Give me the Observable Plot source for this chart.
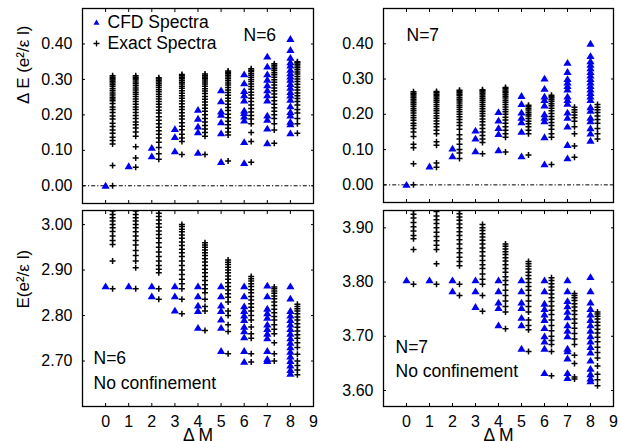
<!DOCTYPE html>
<html><head><meta charset="utf-8">
<script src="https://cdn.jsdelivr.net/npm/d3@7"></script>
<script src="https://cdn.jsdelivr.net/npm/@observablehq/plot@0.6"></script>
<style>
body{margin:0;background:#fff;}
#wrap{position:relative;width:621px;height:441px;overflow:hidden;background:#fff;}
#wrap > div{position:absolute;}
</style></head><body><div id="wrap"></div>
<script>
// ΔM categories and tick labels
const deltaM = [0, 1, 2, 3, 4, 5, 6, 7, 8];
const mTicks = [0, 1, 2, 3, 4, 5, 6, 7, 8, 9];
const topTicks = [0, 0.1, 0.2, 0.3, 0.4];
const n6FreeTicks = [2.7, 2.8, 2.9, 3.0];
const n7FreeTicks = [3.6, 3.7, 3.8, 3.9];

// N=6, with confinement: ΔE values per ΔM (index = ΔM)
const n6CFD = [
  [0.0],
  [0.055],
  [0.083, 0.107],
  [0.097, 0.137, 0.160],
  [0.093, 0.151, 0.167, 0.189, 0.214],
  [0.067, 0.148, 0.179, 0.200, 0.209, 0.238, 0.269],
  [0.064, 0.123, 0.184, 0.195, 0.205, 0.212, 0.240, 0.255, 0.267, 0.289, 0.314],
  [0.120, 0.161, 0.186, 0.198, 0.240, 0.255, 0.269, 0.283, 0.299, 0.314, 0.336, 0.364],
  [0.148, 0.173, 0.180, 0.198, 0.208, 0.224, 0.242, 0.254, 0.264, 0.276, 0.287, 0.299, 0.308, 0.317, 0.327, 0.339, 0.348, 0.361, 0.383, 0.414]
];
const n6Exact = [
  [0.0, 0.057, 0.118, 0.128, 0.137, 0.148, 0.157, 0.167, 0.176, 0.188, 0.197, 0.207, 0.215, 0.222, 0.232, 0.240, 0.245, 0.250, 0.256, 0.262, 0.268, 0.274, 0.280, 0.285, 0.290, 0.294, 0.298, 0.302, 0.306, 0.310],
  [0.052, 0.078, 0.110, 0.140, 0.152, 0.163, 0.172, 0.180, 0.190, 0.198, 0.207, 0.215, 0.222, 0.230, 0.238, 0.245, 0.252, 0.258, 0.264, 0.270, 0.276, 0.282, 0.288, 0.293, 0.298, 0.302, 0.306, 0.310],
  [0.075, 0.090, 0.108, 0.123, 0.135, 0.145, 0.155, 0.165, 0.175, 0.185, 0.195, 0.205, 0.213, 0.222, 0.230, 0.238, 0.245, 0.252, 0.258, 0.265, 0.271, 0.277, 0.283, 0.288, 0.293, 0.297, 0.301, 0.305],
  [0.088, 0.125, 0.135, 0.145, 0.158, 0.168, 0.178, 0.188, 0.197, 0.206, 0.215, 0.223, 0.231, 0.239, 0.247, 0.254, 0.261, 0.268, 0.275, 0.281, 0.287, 0.292, 0.297, 0.302, 0.306, 0.310, 0.314],
  [0.088, 0.140, 0.150, 0.160, 0.170, 0.180, 0.190, 0.200, 0.210, 0.219, 0.228, 0.236, 0.244, 0.252, 0.260, 0.267, 0.274, 0.281, 0.287, 0.293, 0.298, 0.303, 0.307, 0.311, 0.315],
  [0.070, 0.143, 0.152, 0.162, 0.172, 0.182, 0.192, 0.202, 0.212, 0.221, 0.230, 0.239, 0.247, 0.255, 0.263, 0.270, 0.277, 0.284, 0.290, 0.296, 0.302, 0.307, 0.312, 0.316, 0.320, 0.324],
  [0.066, 0.125, 0.150, 0.175, 0.188, 0.198, 0.208, 0.218, 0.228, 0.238, 0.247, 0.256, 0.264, 0.272, 0.280, 0.287, 0.294, 0.300, 0.306, 0.312, 0.317, 0.322, 0.326, 0.330],
  [0.120, 0.157, 0.175, 0.190, 0.200, 0.210, 0.220, 0.230, 0.240, 0.250, 0.259, 0.268, 0.276, 0.284, 0.292, 0.299, 0.306, 0.313, 0.319, 0.325, 0.330, 0.335, 0.340, 0.344],
  [0.148, 0.175, 0.190, 0.205, 0.215, 0.228, 0.238, 0.246, 0.254, 0.262, 0.270, 0.278, 0.286, 0.294, 0.301, 0.308, 0.315, 0.321, 0.327, 0.333, 0.338, 0.343, 0.347, 0.350]
];

// N=7, with confinement
const n7CFD = [
  [0.0],
  [0.052],
  [0.081, 0.103],
  [0.095, 0.131, 0.154],
  [0.098, 0.144, 0.161, 0.182, 0.206],
  [0.081, 0.150, 0.177, 0.190, 0.205, 0.229, 0.252],
  [0.058, 0.135, 0.180, 0.190, 0.200, 0.225, 0.240, 0.250, 0.272, 0.301],
  [0.075, 0.113, 0.165, 0.190, 0.205, 0.230, 0.240, 0.250, 0.270, 0.280, 0.290, 0.300, 0.320, 0.346],
  [0.125, 0.145, 0.160, 0.180, 0.190, 0.210, 0.220, 0.240, 0.250, 0.260, 0.270, 0.280, 0.290, 0.300, 0.310, 0.320, 0.330, 0.340, 0.350, 0.365, 0.400]
];
const n7Exact = [
  [0.0, 0.060, 0.105, 0.115, 0.137, 0.150, 0.160, 0.168, 0.175, 0.183, 0.190, 0.197, 0.204, 0.210, 0.216, 0.222, 0.228, 0.233, 0.238, 0.243, 0.248, 0.252, 0.256, 0.260, 0.264],
  [0.050, 0.062, 0.112, 0.122, 0.145, 0.155, 0.165, 0.173, 0.181, 0.189, 0.196, 0.203, 0.210, 0.216, 0.222, 0.228, 0.234, 0.239, 0.244, 0.249, 0.253, 0.257, 0.261, 0.265],
  [0.075, 0.090, 0.100, 0.115, 0.130, 0.142, 0.158, 0.168, 0.177, 0.185, 0.193, 0.200, 0.207, 0.214, 0.220, 0.226, 0.232, 0.238, 0.243, 0.248, 0.253, 0.257, 0.261, 0.265, 0.268],
  [0.088, 0.120, 0.130, 0.140, 0.150, 0.160, 0.170, 0.179, 0.187, 0.195, 0.202, 0.209, 0.216, 0.222, 0.228, 0.234, 0.240, 0.245, 0.250, 0.255, 0.259, 0.263, 0.267, 0.270],
  [0.093, 0.135, 0.145, 0.155, 0.165, 0.175, 0.184, 0.192, 0.200, 0.207, 0.214, 0.221, 0.228, 0.234, 0.240, 0.246, 0.251, 0.256, 0.261, 0.265, 0.269, 0.273, 0.276],
  [0.085, 0.145, 0.155, 0.165, 0.173, 0.180, 0.188, 0.195, 0.200, 0.206, 0.212, 0.217, 0.222, 0.226],
  [0.058, 0.135, 0.145, 0.158, 0.168, 0.177, 0.186, 0.194, 0.202, 0.210, 0.217, 0.224, 0.230, 0.236, 0.241, 0.246, 0.250, 0.254],
  [0.078, 0.110, 0.145, 0.165, 0.180, 0.190, 0.198, 0.206, 0.213, 0.220],
  [0.130, 0.145, 0.160, 0.175, 0.185, 0.195, 0.205, 0.213, 0.220, 0.228]
];

// N=6, no confinement: E values
const n6FreeCFD = [
  [2.864],
  [2.864],
  [2.842, 2.864],
  [2.811, 2.842, 2.864],
  [2.773, 2.810, 2.822, 2.842, 2.864],
  [2.722, 2.773, 2.791, 2.810, 2.822, 2.842, 2.864],
  [2.698, 2.722, 2.752, 2.765, 2.775, 2.790, 2.800, 2.810, 2.820, 2.842, 2.864],
  [2.700, 2.704, 2.722, 2.750, 2.760, 2.770, 2.780, 2.795, 2.805, 2.815, 2.842, 2.866],
  [2.672, 2.680, 2.690, 2.700, 2.710, 2.720, 2.730, 2.740, 2.750, 2.760, 2.770, 2.780, 2.790, 2.800, 2.810, 2.837, 2.864]
];
const n6FreeExact = [
  [2.859, 2.920, 2.956, 2.965, 2.975, 2.985, 2.993, 3.000, 3.008, 3.015, 3.022, 3.030, 3.040],
  [2.859, 2.905, 2.920, 2.932, 2.943, 2.955, 2.965, 2.975, 2.984, 2.993, 3.000, 3.008, 3.015, 3.022, 3.030, 3.040],
  [2.836, 2.859, 2.894, 2.902, 2.910, 2.920, 2.930, 2.940, 2.950, 2.960, 2.970, 2.978, 2.986, 2.994, 3.002, 3.010, 3.018, 3.025, 3.032, 3.040],
  [2.804, 2.836, 2.859, 2.870, 2.880, 2.890, 2.900, 2.910, 2.920, 2.930, 2.938, 2.946, 2.954, 2.962, 2.970, 2.977, 2.984, 2.990, 2.996, 3.000],
  [2.767, 2.810, 2.820, 2.836, 2.850, 2.859, 2.868, 2.877, 2.886, 2.894, 2.902, 2.910, 2.918, 2.925, 2.932, 2.938, 2.944, 2.950, 2.955, 2.960],
  [2.716, 2.765, 2.780, 2.800, 2.810, 2.830, 2.840, 2.848, 2.856, 2.864, 2.872, 2.880, 2.887, 2.894, 2.900, 2.906, 2.912, 2.917, 2.922],
  [2.698, 2.716, 2.750, 2.760, 2.775, 2.790, 2.800, 2.810, 2.818, 2.826, 2.834, 2.842, 2.850, 2.857, 2.864, 2.870, 2.876, 2.881, 2.886],
  [2.700, 2.716, 2.740, 2.760, 2.770, 2.780, 2.790, 2.798, 2.806, 2.814, 2.822, 2.830, 2.837, 2.843, 2.849, 2.854, 2.859, 2.863],
  [2.670, 2.680, 2.690, 2.700, 2.715, 2.730, 2.740, 2.750, 2.758, 2.766, 2.774, 2.782, 2.790, 2.797, 2.804, 2.810, 2.815, 2.820, 2.825]
];

// N=7, no confinement
const n7FreeCFD = [
  [3.803],
  [3.803],
  [3.783, 3.803],
  [3.754, 3.783, 3.803],
  [3.720, 3.752, 3.762, 3.783, 3.803],
  [3.677, 3.720, 3.734, 3.752, 3.762, 3.783, 3.803],
  [3.632, 3.677, 3.690, 3.700, 3.715, 3.730, 3.740, 3.750, 3.760, 3.783, 3.803],
  [3.623, 3.632, 3.659, 3.672, 3.677, 3.700, 3.710, 3.720, 3.735, 3.745, 3.755, 3.765, 3.783, 3.803],
  [3.617, 3.622, 3.630, 3.640, 3.655, 3.670, 3.680, 3.690, 3.700, 3.710, 3.720, 3.730, 3.740, 3.750, 3.762, 3.783, 3.809]
];
const n7FreeExact = [
  [3.796, 3.860, 3.880, 3.886, 3.894, 3.902, 3.910, 3.918, 3.925, 3.932, 3.940],
  [3.796, 3.834, 3.860, 3.868, 3.876, 3.884, 3.892, 3.900, 3.908, 3.915, 3.922, 3.930, 3.940],
  [3.775, 3.796, 3.830, 3.838, 3.846, 3.854, 3.862, 3.870, 3.878, 3.886, 3.893, 3.900, 3.907, 3.914, 3.920, 3.926, 3.932, 3.940],
  [3.746, 3.775, 3.796, 3.805, 3.815, 3.825, 3.832, 3.840, 3.848, 3.856, 3.863, 3.870, 3.877, 3.883, 3.889, 3.895, 3.900, 3.906],
  [3.714, 3.745, 3.755, 3.765, 3.775, 3.785, 3.795, 3.803, 3.810, 3.818, 3.825, 3.832, 3.839, 3.845, 3.851, 3.856, 3.861, 3.866, 3.870],
  [3.672, 3.712, 3.720, 3.730, 3.745, 3.755, 3.765, 3.775, 3.785, 3.792, 3.799, 3.806, 3.812, 3.818, 3.824, 3.829, 3.834, 3.838],
  [3.627, 3.672, 3.685, 3.692, 3.700, 3.710, 3.720, 3.730, 3.740, 3.748, 3.756, 3.764, 3.771, 3.778, 3.785, 3.791, 3.797, 3.803, 3.808],
  [3.621, 3.625, 3.650, 3.665, 3.685, 3.695, 3.705, 3.715, 3.724, 3.732, 3.740, 3.747, 3.754, 3.760, 3.766, 3.771, 3.775, 3.779],
  [3.609, 3.620, 3.630, 3.645, 3.660, 3.670, 3.680, 3.690, 3.698, 3.706, 3.713, 3.720, 3.726, 3.732, 3.737, 3.741, 3.745]
];

const legendLabels = ["CFD Spectra", "Exact Spectra"];
const topYLabel = "Δ E (e²/ε l)";
const botYLabel = "E(e²/ε l)";
const xLabel = "Δ M";

// ---------- drawing ----------
const BLUE = "#0000f0";
const FONT = "'Liberation Sans', Arial, Helvetica, sans-serif";
const triSym = {draw(ctx) { ctx.moveTo(0, -3.9); ctx.lineTo(4.1, 2.9); ctx.lineTo(-4.1, 2.9); ctx.closePath(); }};
const triSmall = {draw(ctx) { ctx.moveTo(0, -2.9); ctx.lineTo(3, 2.2); ctx.lineTo(-3, 2.2); ctx.closePath(); }};
const plusSym = {draw(ctx) { ctx.moveTo(-3, 0); ctx.lineTo(3, 0); ctx.moveTo(0, -3); ctx.lineTo(0, 3); }};

function rows(lists) {
  return lists.flatMap((vals, i) => vals.map(v => ({m: deltaM[i], v})));
}
function txt(s, o) {
  return Plot.text([s], {text: d => d, fontSize: 17.5, textAnchor: "start", lineAnchor: "middle", ...o});
}

function panel(cfg) {
  const marks = [];
  if (cfg.zeroLine) marks.push(Plot.ruleY([0], {stroke: "black", strokeWidth: 1, strokeDasharray: "4,2,1.2,2"}));
  marks.push(
    Plot.dot(rows(cfg.cfd), {x: "m", y: "v", symbol: triSym, fill: BLUE, stroke: "none", clip: true}),
    Plot.dot(rows(cfg.exact), {x: "m", y: "v", dx: 7, symbol: plusSym, fill: "none", stroke: "black", strokeWidth: 1.5, clip: true}),
    Plot.axisY(cfg.yTicks, {anchor: "left", tickSize: -3, tickPadding: 13, tickFormat: d => d.toFixed(2), label: null, fontSize: 16}),
    Plot.axisY(cfg.yTicks, {anchor: "right", tickSize: -3, tickFormat: () => "", label: null}),
    Plot.axisX(mTicks, {anchor: "bottom", tickSize: -3, tickPadding: 12, tickFormat: cfg.xLabels ? d => String(d) : () => "", label: null, fontSize: 16}),
    Plot.axisX(mTicks, {anchor: "top", tickSize: -3, tickFormat: () => "", label: null}),
    Plot.frame({stroke: "black", strokeWidth: 1.3}),
    ...cfg.extra
  );
  const svg = Plot.plot({
    width: cfg.w, height: cfg.h,
    marginLeft: cfg.ml, marginRight: cfg.mr, marginTop: cfg.mt, marginBottom: cfg.mb,
    x: {domain: [-1, 9], axis: null},
    y: {domain: cfg.yDomain, axis: null},
    style: {fontFamily: FONT, fontSize: "16px", background: "transparent", overflow: "visible"},
    marks
  });
  const div = document.createElement("div");
  div.style.left = cfg.left + "px";
  div.style.top = cfg.top + "px";
  div.appendChild(svg);
  document.getElementById("wrap").appendChild(div);
}

// top-left: N=6
panel({
  left: 0, top: 0, w: 320, h: 207, ml: 82, mr: 7, mt: 8, mb: 4,
  yDomain: [-0.05, 0.5], yTicks: topTicks, zeroLine: true, xLabels: false,
  cfd: n6CFD, exact: n6Exact,
  extra: [
    Plot.dot([0], {frameAnchor: "top-left", dx: 14, dy: 14, symbol: triSmall, fill: BLUE, stroke: "none"}),
    Plot.dot([0], {frameAnchor: "top-left", dx: 14, dy: 35, symbol: plusSym, fill: "none", stroke: "black", strokeWidth: 1.3}),
    txt(legendLabels[0], {frameAnchor: "top-left", dx: 25, dy: 14}),
    txt(legendLabels[1], {frameAnchor: "top-left", dx: 25, dy: 35}),
    txt("N=6", {frameAnchor: "top-left", dx: 161, dy: 27}),
    Plot.text([topYLabel], {text: d => d, frameAnchor: "left", dx: -59, dy: -2, rotate: -90, fontSize: 17})
  ]
});
// top-right: N=7
panel({
  left: 320, top: 0, w: 301, h: 207, ml: 63, mr: 8, mt: 8, mb: 5,
  yDomain: [-0.05, 0.5], yTicks: topTicks, zeroLine: true, xLabels: false,
  cfd: n7CFD, exact: n7Exact,
  extra: [txt("N=7", {frameAnchor: "top-left", dx: 23, dy: 27})]
});
// bottom-left: N=6 no confinement
panel({
  left: 0, top: 207, w: 320, h: 234, ml: 82, mr: 7, mt: 3, mb: 35,
  yDomain: [2.60, 3.031], yTicks: n6FreeTicks, zeroLine: false, xLabels: true,
  cfd: n6FreeCFD, exact: n6FreeExact,
  extra: [
    txt("N=6", {frameAnchor: "bottom-left", dx: 11, dy: -48}),
    txt("No confinement", {frameAnchor: "bottom-left", dx: 11, dy: -23}),
    Plot.text([botYLabel], {text: d => d, frameAnchor: "left", dx: -59, rotate: -90, fontSize: 17}),
    Plot.text([xLabel], {text: d => d, frameAnchor: "bottom", dy: 34, lineAnchor: "bottom", fontSize: 17.5})
  ]
});
// bottom-right: N=7 no confinement
panel({
  left: 320, top: 207, w: 301, h: 234, ml: 63, mr: 8, mt: 3, mb: 35,
  yDomain: [3.5705, 3.932], yTicks: n7FreeTicks, zeroLine: false, xLabels: true,
  cfd: n7FreeCFD, exact: n7FreeExact,
  extra: [
    txt("N=7", {frameAnchor: "bottom-left", dx: 12, dy: -59}),
    txt("No confinement", {frameAnchor: "bottom-left", dx: 12, dy: -35}),
    Plot.text([xLabel], {text: d => d, frameAnchor: "bottom", dy: 34, lineAnchor: "bottom", fontSize: 17.5})
  ]
});
</script></body></html>
